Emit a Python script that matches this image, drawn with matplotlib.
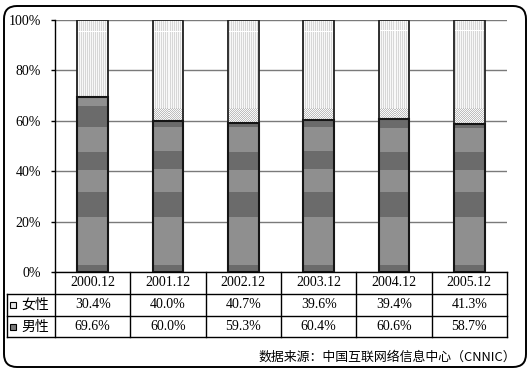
import numpy as np
import matplotlib
matplotlib.use("Agg")
import matplotlib.pyplot as plt
from matplotlib.patches import FancyBboxPatch, Rectangle

# data
years = ['2000.12', '2001.12', '2002.12', '2003.12', '2004.12', '2005.12']
female = [30.4, 40.0, 40.7, 39.6, 39.4, 41.3]
male = [69.6, 60.0, 59.3, 60.4, 60.6, 58.7]
row_names = ['女性', '男性']
yticks = [0, 20, 40, 60, 80, 100]
source = '数据来源：中国互联网络信息中心（CNNIC）'

SERIF = 'Liberation Serif'
CJK = ['Noto Sans CJK SC', 'DejaVu Sans']

W, H = 531, 372
fig = plt.figure(figsize=(W / 100, H / 100), dpi=100)

# pixel layout
ax_l, ax_r, ax_t, ax_b = 55, 507, 20, 272
row_y = [272, 294, 316, 337]
lab_l = 7
n = len(years)
colw = (ax_r - ax_l) / n

# background axes in pixel coords (border, table, note)
bg = fig.add_axes([0, 0, 1, 1], zorder=0)
bg.set_xlim(0, W)
bg.set_ylim(H, 0)
bg.axis('off')
bg.add_patch(FancyBboxPatch((4, 6), W - 9, H - 11, boxstyle='round,pad=0,rounding_size=13',
                            fill=False, edgecolor='black', lw=1.4))

ax = fig.add_axes([ax_l / W, 1 - ax_b / H, (ax_r - ax_l) / W, (ax_b - ax_t) / H], zorder=1)
ax.set_facecolor('none')
ax.set_xlim(0, n)
ax.set_ylim(0, 100)
for s in ['top', 'right', 'bottom']:
    ax.spines[s].set_visible(False)
ax.spines['left'].set_linewidth(1.0)
ax.set_xticks([])
ax.set_yticks(yticks)
ax.set_yticklabels([f'{v}%' for v in yticks], fontfamily=SERIF, fontsize=10)
ax.tick_params(axis='y', length=3, pad=7, width=1)
ax.set_axisbelow(True)
ax.yaxis.grid(True, color='#7a7a7a', lw=1.0)

# textures (gradient banding of the original print)
pw, ph = ax_r - ax_l, ax_b - ax_t
rows = np.arange(ph)[:, None]
cols = np.arange(pw)[None, :]
pct = 100 - (rows + 0.5) / ph * 100
dark = ((pct < 2.8) | ((pct > 21.9) & (pct < 31.9)) |
        ((pct > 40.5) & (pct < 47.7)) | ((pct > 57.1) & (pct < 65.6)))
male_tex = np.where(dark, 0.42, 0.56) * np.ones((1, pw))
stripes = np.where(cols % 2 == 0, 0.84, 0.97) * np.ones((ph, 1))
checker = np.where((rows + cols) % 2 == 0, 0.74, 0.97)
fem_tex = np.where(pct > 65, stripes, checker)
fem_tex[np.abs(pct - 95.4) < 0.3 * np.ones((1, pw))] = 1.0

x = np.arange(n) + 0.5
bw = 0.41
mbars = ax.bar(x, male, bw, color='none', edgecolor='none')
fbars = ax.bar(x, female, bw, bottom=male, color='none', edgecolor='none')
for bars, tex in [(mbars, male_tex), (fbars, fem_tex)]:
    for b in bars:
        im = ax.imshow(tex, cmap='gray', vmin=0, vmax=1, extent=(0, n, 0, 100),
                       aspect='auto', interpolation='none', zorder=2)
        im.set_clip_path(b)
ax.bar(x, [m + f for m, f in zip(male, female)], bw, fill=False, edgecolor='#202020', lw=1.3, zorder=3)
ax.bar(x, male, bw, fill=False, edgecolor='#151515', lw=1.5, zorder=3)

# table grid
lc = 'black'
bg.plot([ax_l, ax_r], [row_y[0], row_y[0]], color=lc, lw=1)
for yy in row_y[1:]:
    bg.plot([lab_l, ax_r], [yy, yy], color=lc, lw=1)
bg.plot([lab_l, lab_l], [row_y[1], row_y[3]], color=lc, lw=1)
for i in range(n + 1):
    xx = ax_l + i * colw
    bg.plot([xx, xx], [row_y[0], row_y[3]], color=lc, lw=1)

for i, yr in enumerate(years):
    cx = ax_l + (i + 0.5) * colw
    bg.text(cx, (row_y[0] + row_y[1]) / 2, yr, ha='center', va='center', fontfamily=SERIF, fontsize=10)
    bg.text(cx, (row_y[1] + row_y[2]) / 2, f'{female[i]:.1f}%', ha='center', va='center',
            fontfamily=SERIF, fontsize=10)
    bg.text(cx, (row_y[2] + row_y[3]) / 2, f'{male[i]:.1f}%', ha='center', va='center',
            fontfamily=SERIF, fontsize=10)

# row labels with legend squares
sq_fc = ['#e6e6e6', '#7a7a7a']
for k, name in enumerate(row_names):
    cy = (row_y[k + 1] + row_y[k + 2]) / 2
    bg.add_patch(Rectangle((10, cy - 3), 6, 6, facecolor=sq_fc[k], edgecolor='black', lw=0.8))
    bg.text(21, cy, name, ha='left', va='center', family=CJK, fontsize=10)

bg.text(516, 357, source, ha='right', va='center', family=CJK, fontsize=9.3)

fig.savefig('out.png', dpi=100)
